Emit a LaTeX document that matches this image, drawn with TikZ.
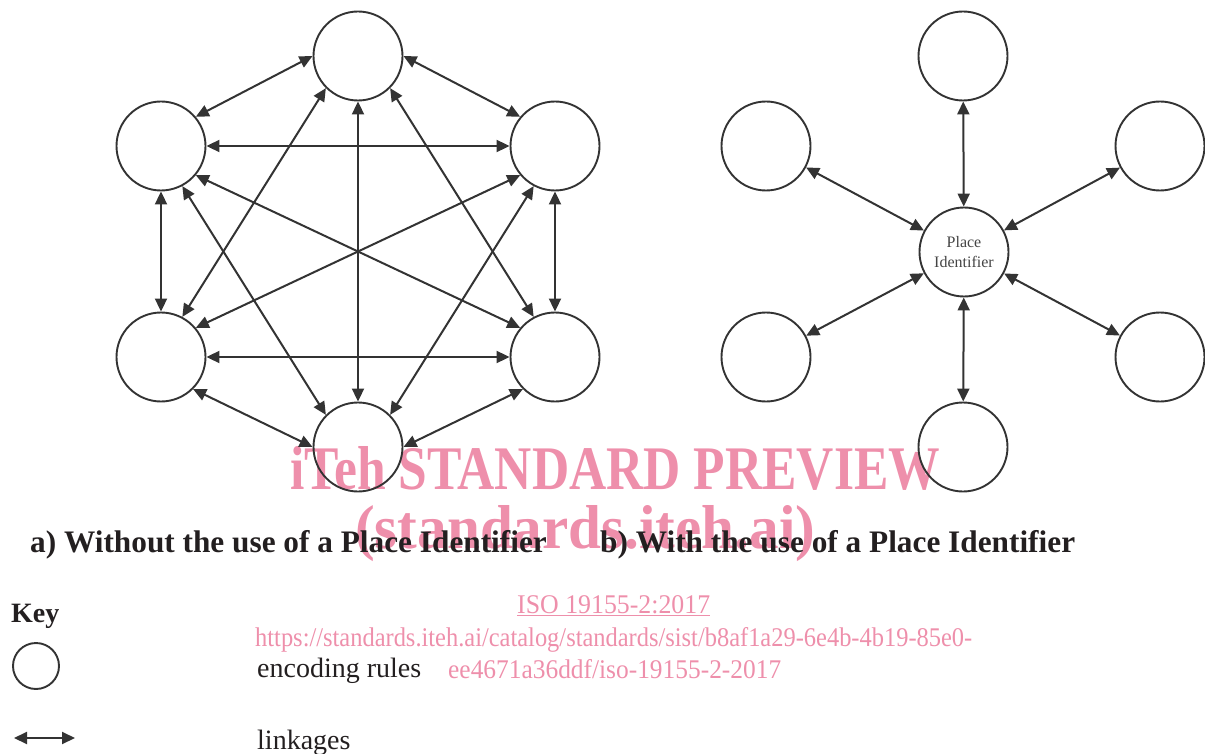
\documentclass[tikz,border=0pt]{standalone}
\usepackage{fontspec}
\setmainfont{Liberation Serif}
\usepackage{graphicx}
\usetikzlibrary{arrows.meta}
\definecolor{cLine}{HTML}{333333}
\definecolor{cText}{HTML}{231F20}
\definecolor{cPink}{HTML}{EE8FAB}
\definecolor{cGrey}{HTML}{444444}
\newcommand{\fitw}[2]{\resizebox{#1}{\height}{#2}}
\tikzset{
  enc/.style={circle, draw=cLine, line width=1.9pt, minimum size=89pt, inner sep=0pt},
  link/.style={{Triangle[length=13pt,width=12pt]}-{Triangle[length=13pt,width=12pt]}, line width=2pt, draw=cLine},
  capt/.style={anchor=base west, inner sep=0pt, text=cText, font=\fontsize{31.3}{33}\selectfont\bfseries},
  keytxt/.style={anchor=base west, inner sep=0pt, text=cText, font=\fontsize{28}{30}\selectfont},
  wmk/.style={anchor=base west, inner sep=0pt, text=cPink},
}

\begin{document}
\begin{tikzpicture}[x=1pt,y=-1pt]
  \useasboundingbox (0,0) rectangle (1205,754);
  % watermark
  \node[wmk, font=\fontsize{62}{64}\selectfont\bfseries] (wm1) at (290,489) {\fitw{650pt}{iTeh STANDARD PREVIEW}};
  \node[wmk, font=\fontsize{62}{64}\selectfont\bfseries] (wm2) at (355,548) {\fitw{460pt}{(standards.iteh.ai)}};
  \node[wmk, font=\fontsize{27}{29}\selectfont] (wm3) at (517,613) {\fitw{193pt}{\underline{ISO 19155-2:2017}}};
  \node[wmk, font=\fontsize{27}{29}\selectfont] (wm4) at (255,646) {\fitw{717pt}{https://standards.iteh.ai/catalog/standards/sist/b8af1a29-6e4b-4b19-85e0-}};
  \node[wmk, font=\fontsize{27}{29}\selectfont] (wm5) at (448,678) {\fitw{333pt}{ee4671a36ddf/iso-19155-2-2017}};

  % a) every pair linked
  \node[enc] (t)  at (358,56)  {};
  \node[enc] (ul) at (161,146) {};
  \node[enc] (ur) at (555,146) {};
  \node[enc] (ll) at (161,357) {};
  \node[enc] (lr) at (555,357) {};
  \node[enc] (b)  at (358,447) {};
  \foreach \p/\q in {t.180/ul.40, t.0/ur.140, t.225/ll.62, t.315/lr.118, t/b,
                     ul/ur, ul/ll, ur/lr, ll/lr, ul.320/lr.140, ur.220/ll.40,
                     ul.298/b.135, ur.242/b.45, ll.315/b.180, lr.225/b.0}
    \draw[link] (\p) -- (\q);

  % b) linked through the Place Identifier
  \node[enc, align=center, text=cGrey, font=\fontsize{16}{20}\selectfont] (pi) at (964,252) {Place\\Identifier};
  \node[enc] (t2)  at (963,56)   {};
  \node[enc] (ul2) at (766,146)  {};
  \node[enc] (ur2) at (1160,146) {};
  \node[enc] (ll2) at (766,357)  {};
  \node[enc] (lr2) at (1160,357) {};
  \node[enc] (b2)  at (963,447)  {};
  \foreach \n in {t2,ul2,ur2,ll2,lr2,b2}
    \draw[link] (pi) -- (\n);

  \node[capt] (capa) at (30,552)  {a) Without the use of a Place Identifier};
  \node[capt] (capb) at (600,552) {b) With the use of a Place Identifier};

  % key
  \node[capt, font=\fontsize{28}{30}\selectfont\bfseries] (key) at (11,622) {Key};
  \node[enc, minimum size=46pt] (kc) at (36,666) {};
  \coordinate (ka) at (14,738);
  \coordinate (kb) at (75,738);
  \draw[link] (ka) -- (kb);
  \node[keytxt] (enctxt)  at (257,677) {encoding rules};
  \node[keytxt] (linktxt) at (257,749) {linkages};
\end{tikzpicture}
\end{document}
